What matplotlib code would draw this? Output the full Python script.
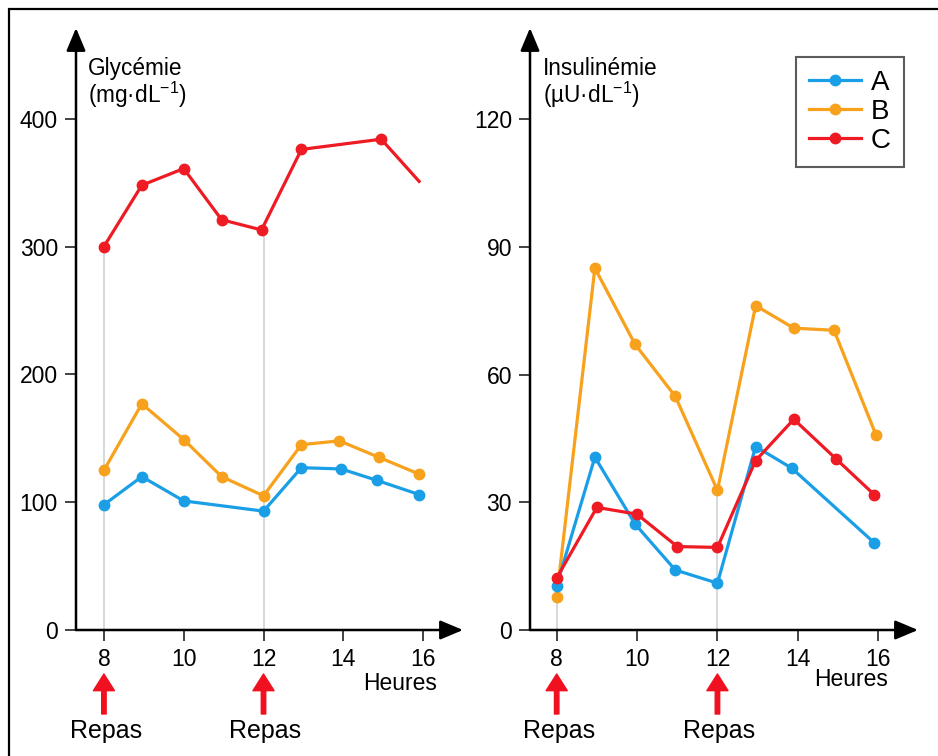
import matplotlib
matplotlib.use("Agg")
import matplotlib.pyplot as plt
from matplotlib.patches import Rectangle

plt.rcParams['font.family'] = ['Liberation Sans Narrow', 'Liberation Sans', 'DejaVu Sans']
plt.rcParams['mathtext.fontset'] = 'custom'
plt.rcParams['mathtext.rm'] = 'Liberation Sans'
plt.rcParams['mathtext.it'] = 'Liberation Sans'

# Glycémie (mg/dL)
A_h_gly = [8, 8.95, 10, 12, 12.95, 13.95, 14.85, 15.9]
A_gly = [98, 120, 101, 93, 127, 126, 117, 106]
B_h_gly = [8, 8.95, 10, 10.95, 12, 12.95, 13.9, 14.9, 15.9]
B_gly = [125, 177, 149, 120, 105, 145, 148, 135, 122]
C_h_gly = [8, 8.95, 10, 10.95, 11.95, 12.95, 14.95, 15.9]
C_gly = [300, 348, 361, 321, 313, 376, 384, 351]

# Insulinémie (µU/dL)
A_h_ins = [8, 8.95, 9.95, 10.95, 12, 12.95, 13.85, 15.9]
A_ins = [10.4, 40.6, 24.9, 14.1, 11.0, 43.1, 38.0, 20.5]
B_h_ins = [8, 8.95, 9.95, 10.95, 12, 12.95, 13.9, 14.9, 15.95]
B_ins = [7.8, 85.0, 67.1, 54.9, 32.8, 76.2, 70.9, 70.4, 45.7]
C_h_ins = [8, 9, 10, 11, 12, 12.95, 13.9, 14.95, 15.9]
C_ins = [12.2, 28.8, 27.2, 19.6, 19.4, 39.8, 49.5, 40.2, 31.8]

meals = [8, 12]
hour_ticks = [8, 10, 12, 14, 16]
gly_ticks = [0, 100, 200, 300, 400]
ins_ticks = [0, 30, 60, 90, 120]

BLUE = '#1a9fe6'
ORANGE = '#f7a11c'
RED = '#ee1b24'

W, H = 938, 756
fig = plt.figure(figsize=(W / 100, H / 100), dpi=100)

def fx(px):
    return px / W

def fy(py):
    return 1 - py / H

ax1 = fig.add_axes([fx(76), fy(630), fx(463 - 76), (630 - 28) / H])
ax2 = fig.add_axes([fx(530), fy(630), fx(918 - 530), (630 - 28) / H])

line_kw = dict(lw=2.3, marker='o', ms=7.5)

# left panel
for m in meals:
    top = max(v for h, v in zip(C_h_gly, C_gly) if abs(h - m) < 0.1)
    ax1.vlines(m, 0, top - 4, color='#d4d6dc', lw=1.3, zorder=1)
ax1.plot(C_h_gly, C_gly, color=RED, markevery=list(range(len(C_gly) - 1)), **line_kw)
ax1.plot(B_h_gly, B_gly, color=ORANGE, **line_kw)
ax1.plot(A_h_gly, A_gly, color=BLUE, **line_kw)
ax1.set_xlim(7.3, 17.0)
ax1.set_ylim(0, 471)
ax1.set_yticks(gly_ticks)

# right panel
for m in meals:
    top = max(v for h, v in zip(B_h_ins, B_ins) if abs(h - m) < 0.1)
    ax2.vlines(m, 0, top - 1, color='#d4d6dc', lw=1.3, zorder=1)
ax2.plot(B_h_ins, B_ins, color=ORANGE, label='B', **line_kw)
ax2.plot(A_h_ins, A_ins, color=BLUE, label='A', **line_kw)
ax2.plot(C_h_ins, C_ins, color=RED, label='C', **line_kw)
ax2.set_xlim(7.336, 16.99)
ax2.set_ylim(0, 141.4)
ax2.set_yticks(ins_ticks)

for ax in (ax1, ax2):
    ax.set_xticks(hour_ticks)
    for s in ax.spines.values():
        s.set_visible(False)
    ax.tick_params(direction='out', length=8, width=1.2, pad=5, labelsize=16.5, color='#222222')
    ax.patch.set_alpha(0)
    arrow = dict(arrowstyle='-|>,head_length=1.0,head_width=0.42', lw=1.8, color='black',
                 shrinkA=0, shrinkB=0, mutation_scale=14)
    ax.annotate('', xy=(0, 1), xytext=(0, 0), xycoords='axes fraction', arrowprops=arrow)
    ax.annotate('', xy=(1, 0), xytext=(0, 0), xycoords='axes fraction', arrowprops=arrow)
    for m in meals:
        ax.annotate('', xy=(m, fy(674)), xytext=(m, fy(714)),
                    xycoords=('data', 'figure fraction'),
                    arrowprops=dict(arrowstyle='simple,head_length=0.75,head_width=0.95,tail_width=0.2',
                                    color='#f01020', mutation_scale=16, shrinkA=0, shrinkB=0))
        ax.annotate('Repas', xy=(m + 0.05, fy(731)), xycoords=('data', 'figure fraction'),
                    ha='center', va='center', fontsize=18, annotation_clip=False)

# axis titles
fig.text(fx(88), fy(75), 'Glycémie', fontsize=16.3, ha='left', va='baseline')
fig.text(fx(88), fy(103), '(mg·dL$^{-1}$)', fontsize=16.3, ha='left', va='baseline')
fig.text(fx(543), fy(75), 'Insulinémie', fontsize=16.3, ha='left', va='baseline')
fig.text(fx(543), fy(103), '(µU·dL$^{-1}$)', fontsize=16.3, ha='left', va='baseline')
fig.text(fx(437), fy(683), 'Heures', fontsize=16.5, ha='right', va='center')
fig.text(fx(888), fy(680), 'Heures', fontsize=16.5, ha='right', va='center')

# legend
handles, labels = ax2.get_legend_handles_labels()
order = [labels.index(k) for k in ['A', 'B', 'C']]
leg = ax2.legend([handles[i] for i in order], [labels[i] for i in order],
                 loc='upper left', bbox_to_anchor=(fx(796), fy(57)), bbox_transform=fig.transFigure,
                 fontsize=20, frameon=True, fancybox=False, edgecolor='#333333',
                 handlelength=1.9, handletextpad=0.35, labelspacing=0.12, borderpad=0.45,
                 borderaxespad=0, numpoints=1, markerscale=1.0)
leg.get_frame().set_linewidth(1.5)

# outer frame
fig.add_artist(Rectangle((fx(9), -0.1), 2, fy(9) + 0.1, transform=fig.transFigure,
                         fill=False, lw=1.6, ec='black'))

fig.savefig('out.png', dpi=100)
